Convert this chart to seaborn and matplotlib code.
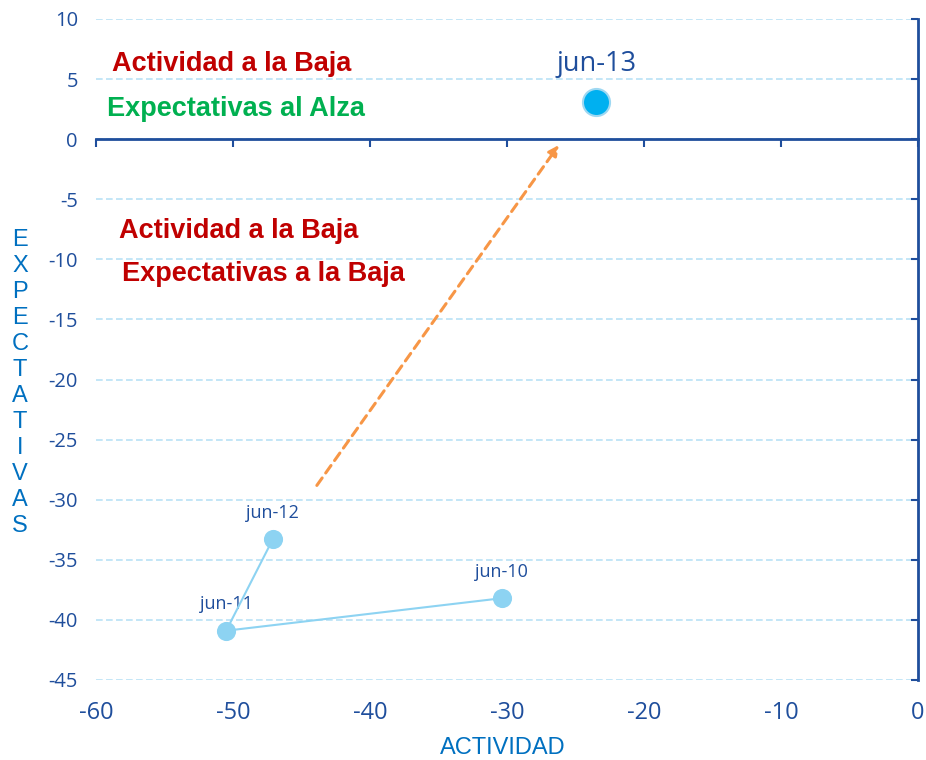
import numpy as np
import pandas as pd
import matplotlib
matplotlib.use("Agg")
import matplotlib.pyplot as plt
import seaborn as sns

# data
periods = ["jun-10", "jun-11", "jun-12"]
actividad = [-30.4, -50.5, -47.1]
expectativas = [-38.2, -40.9, -33.3]

last_period = "jun-13"
last_actividad = -23.5
last_expectativas = 3.1

arrow_start = (-44.0, -29.0)
arrow_end = (-26.1, -0.3)

x_ticks = [-60, -50, -40, -30, -20, -10, 0]
y_ticks = [10, 5, 0, -5, -10, -15, -20, -25, -30, -35, -40, -45]

quadrant_notes = [
    ("Actividad a la Baja", -58.8, 6.25, "#C00000"),
    ("Expectativas al Alza", -59.2, 2.55, "#00B050"),
    ("Actividad a la Baja", -58.3, -7.65, "#C00000"),
    ("Expectativas a la Baja", -58.1, -11.25, "#C00000"),
]

df = pd.DataFrame({"periodo": periods, "actividad": actividad, "expectativas": expectativas})

tick_blue = "#1F4E9C"
label_blue = "#0070C0"
point_blue = "#8DD3F2"
grid_blue = "#B9E2F6"

sns.set_style("white")
plt.rcParams["font.family"] = ["Open Sans", "DejaVu Sans"]
plt.rcParams["axes.unicode_minus"] = False

fig = plt.figure(figsize=(9.26, 7.6), dpi=100)
ax = fig.add_axes([0.1037, 0.1053, 0.8877, 0.8697])

sns.scatterplot(data=df, x="actividad", y="expectativas", color=point_blue, s=190,
                edgecolor=point_blue, linewidth=0, ax=ax, zorder=4)
sns.lineplot(data=df, x="actividad", y="expectativas", sort=False, color=point_blue,
             linewidth=1.5, ax=ax, zorder=5)
sns.scatterplot(x=[last_actividad], y=[last_expectativas], color="#00B0F0", s=380,
                edgecolor="#9ED8F2", linewidth=1.5, ax=ax, zorder=4)

for _, r in df.iterrows():
    ax.annotate(r["periodo"], (r["actividad"], r["expectativas"]), xytext=(0, 19),
                textcoords="offset points", ha="center", va="center",
                fontsize=13, color=tick_blue)
ax.annotate(last_period, (last_actividad, last_expectativas), xytext=(0, 27),
            textcoords="offset points", ha="center", va="center",
            fontsize=19.5, color=tick_blue)

ax.annotate("", xy=arrow_end, xytext=arrow_start,
            arrowprops=dict(arrowstyle="-|>", color="#F79646", lw=2.2,
                            linestyle=(0, (3, 2)), mutation_scale=15))

for txt, x, y, c in quadrant_notes:
    ax.text(x, y, txt, color=c, fontsize=19.5, fontweight="bold",
            family=["Liberation Sans", "DejaVu Sans"], ha="left", va="center")

ax.set_xlim(-60, 0)
ax.set_ylim(-45, 10)
ax.set_xticks(x_ticks)
ax.set_yticks(y_ticks)
ax.set_xlabel("")
ax.set_ylabel("")

ax.yaxis.grid(True, color=grid_blue, linestyle=(0, (4, 2)), linewidth=1.2)
ax.xaxis.grid(False)

for s in ["left", "top"]:
    ax.spines[s].set_visible(False)
ax.spines["bottom"].set_position(("data", 0))
ax.spines["bottom"].set_color(tick_blue)
ax.spines["bottom"].set_linewidth(2)
ax.spines["right"].set_color(tick_blue)
ax.spines["right"].set_linewidth(2)

ax.tick_params(axis="x", bottom=True, labelbottom=False, direction="out",
               length=6, width=1.5, color=tick_blue)
ax.tick_params(axis="y", left=False, right=True, labelleft=True, labelright=False,
               direction="in", length=5, width=1.5, color=tick_blue,
               labelcolor=tick_blue, labelsize=14.5, pad=13)

sec = ax.secondary_xaxis("bottom")
sec.set_xticks(x_ticks)
sec.spines["bottom"].set_visible(False)
sec.tick_params(length=0, pad=15, labelsize=17, labelcolor=tick_blue)

fig.text(0.543, 0.0158, "ACTIVIDAD", color=label_blue, fontsize=17,
         family=["Liberation Sans", "DejaVu Sans"], ha="center", va="center")
fig.text(0.0216, 0.496, "\n".join("EXPECTATIVAS"), color=label_blue, fontsize=17,
         family=["Liberation Sans", "DejaVu Sans"], ha="center", va="center",
         linespacing=1.24, multialignment="center")

fig.savefig("out.png", dpi=100)
